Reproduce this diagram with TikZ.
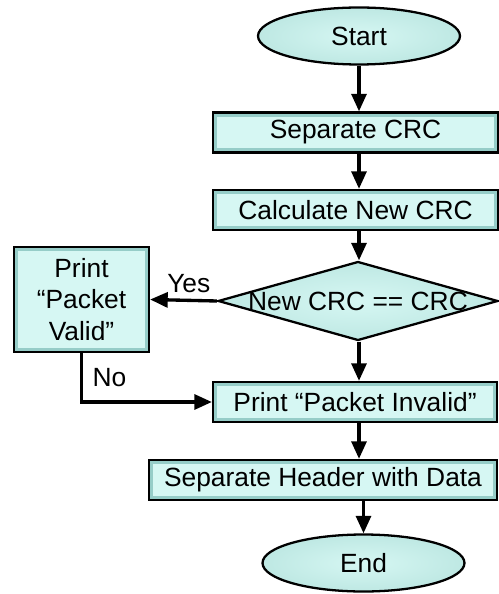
\documentclass[tikz,border=0pt]{standalone}
\usepackage{fontspec}
\setmainfont{Liberation Sans}
\usetikzlibrary{shapes.geometric,arrows.meta,positioning}

\definecolor{boxlight}{RGB}{214,247,243}
\definecolor{boxmid}{RGB}{190,232,227}
\definecolor{boxdark}{RGB}{150,205,200}

\tikzset{
  flowbox/.style={rectangle, draw=black, line width=1.3pt, fill=boxdark,
    minimum height=0.8cm, inner sep=0pt,
    path picture={\fill[boxlight]
      ([shift={(2.5pt,-2.5pt)}]path picture bounding box.north west) rectangle
      ([shift={(-2.5pt,2.5pt)}]path picture bounding box.south east);}},
  terminal/.style={ellipse, draw=black, line width=1.3pt, inner color=boxlight,
    outer color=boxmid, minimum width=4.04cm, minimum height=1.14cm},
  decision/.style={diamond, draw=black, line width=1.3pt, inner color=boxlight,
    outer color=boxmid, minimum width=5.6cm, minimum height=1.58cm, inner sep=0pt},
  flow/.style={-{Triangle[length=10pt,width=8.5pt]}, line width=1.9pt},
}

\begin{document}
\begin{tikzpicture}[x=0.02cm, y=-0.02cm, font=\fontsize{15}{18}\selectfont]
  \useasboundingbox (0,0) rectangle (499,594);

  % Define nodes
  \node[terminal]                        (start)   at (359,36)      {Start};
  \node[flowbox, minimum width=5.7cm]    (sep)     at (355.5,132.5) {Separate CRC};
  \node[flowbox, minimum width=5.7cm]    (calc)    at (355.5,210)   {Calculate New CRC};
  \node[decision, label={[name=declbl]center:New CRC == CRC}] (dec) at (358,301) {};
  \node[flowbox, minimum width=2.7cm, minimum height=2.1cm, align=center]
                                         (valid)   at (81.5,299.5)  {Print\\“Packet\\Valid”};
  \node[flowbox, minimum width=5.68cm]   (invalid) at (355,402)     {Print “Packet Invalid”};
  \node[flowbox, minimum width=6.96cm]   (header)  at (323,480)     {Separate Header with Data};
  \node[terminal]                        (end)     at (363.5,563)   {End};

  % Connect the nodes
  \draw[flow] (start) -- (start |- sep.north);
  \draw[flow] (start |- sep.south) -- (start |- calc.north);
  \draw[flow] (start |- calc.south) -- (start |- dec.north);
  \draw[flow] (dec.west) -- node[above, xshift=3pt, yshift=0pt] (yes) {Yes} (valid.east);
  \draw[flow] (start |- dec.south) -- (start |- invalid.north);
  \draw[flow] (valid.south) -- node[right, xshift=2pt] (no) {No} (valid.south |- invalid)
    -- (invalid.west);
  \draw[flow] (start |- invalid.south) -- (start |- header.north);
  \draw[flow] (end.north |- header.south) -- (end);

\end{tikzpicture}
\end{document}
